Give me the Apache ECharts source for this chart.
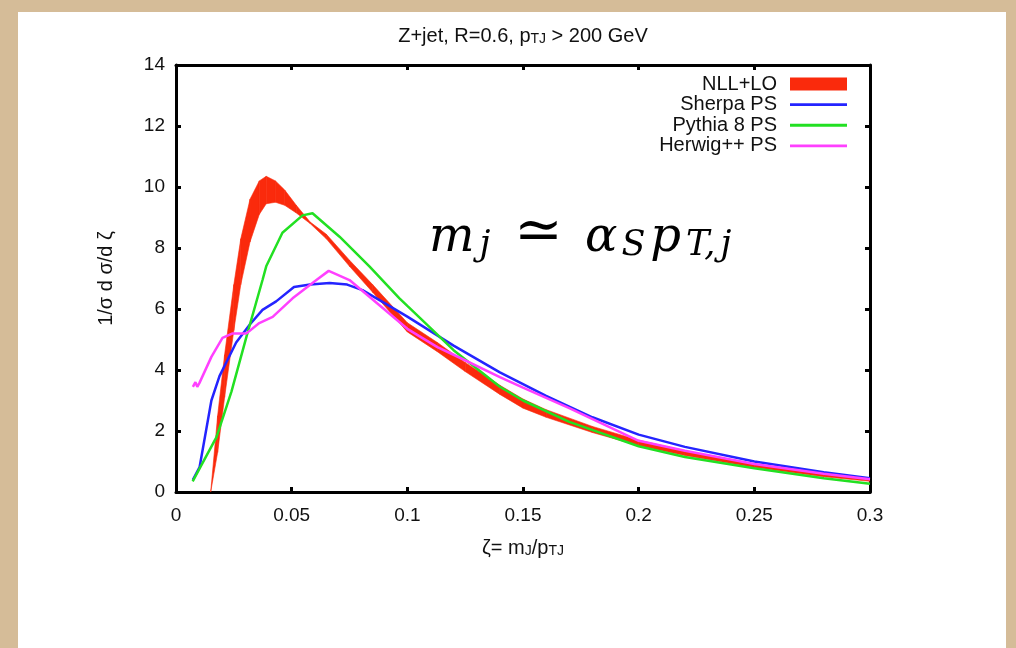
<!DOCTYPE html>
<html>
<head>
<meta charset="utf-8">
<script src="https://cdn.jsdelivr.net/npm/echarts@6/dist/echarts.min.js"></script>
<style>
  html, body { margin: 0; padding: 0; background: #d5bc98; }
  #chart { width: 1016px; height: 648px; }
</style>
</head>
<body>
<div id="chart"></div>
<script>
// ---- data ----
const seriesNames = ['NLL+LO', 'Sherpa PS', 'Pythia 8 PS', 'Herwig++ PS'];

const zNLL    = [0.015,0.018,0.021,0.025,0.028,0.032,0.036,0.039,0.043,0.047,0.052,0.058,0.065,0.075,0.085,0.1,0.113,0.125,0.14,0.15,0.16,0.18,0.2,0.22,0.25,0.28,0.3];
const nllHigh = [0,2.5,4.5,6.8,8.3,9.6,10.2,10.35,10.2,9.9,9.4,8.85,8.45,7.6,6.8,5.55,4.9,4.25,3.5,3.05,2.7,2.15,1.7,1.35,0.92,0.58,0.42];
const nllLow  = [0,1.3,3.1,5.3,6.8,8.2,9.1,9.45,9.5,9.4,9.15,8.8,8.3,7.4,6.55,5.25,4.6,3.95,3.2,2.75,2.45,1.95,1.52,1.2,0.8,0.5,0.35];

const zSherpa = [0.0073,0.0102,0.0153,0.0188,0.026,0.032,0.0374,0.0433,0.051,0.058,0.0664,0.074,0.0806,0.09,0.1,0.12,0.14,0.16,0.18,0.2,0.22,0.25,0.28,0.3];
const sherpa  = [0.4,0.82,3.0,3.8,4.9,5.5,5.97,6.25,6.72,6.8,6.85,6.8,6.62,6.2,5.75,4.8,3.92,3.15,2.45,1.88,1.48,1.0,0.65,0.45];

const zPythia = [0.0072,0.0175,0.024,0.0305,0.0374,0.039,0.046,0.0547,0.059,0.0707,0.0836,0.0966,0.1,0.12,0.14,0.15,0.17,0.2,0.22,0.25,0.28,0.3];
const pythia  = [0.35,1.8,3.3,5.1,6.95,7.4,8.5,9.07,9.14,8.37,7.4,6.35,6.1,4.65,3.45,3.0,2.3,1.5,1.15,0.78,0.45,0.27];

const zHerwig = [0.0073,0.0084,0.0092,0.0101,0.0153,0.0201,0.0245,0.0305,0.036,0.0418,0.0504,0.0607,0.066,0.075,0.0836,0.1,0.113,0.12,0.14,0.15,0.17,0.2,0.22,0.25,0.28,0.3];
const herwig  = [3.45,3.6,3.45,3.57,4.43,5.05,5.2,5.2,5.54,5.74,6.35,6.95,7.25,6.95,6.4,5.35,4.75,4.5,3.77,3.42,2.75,1.68,1.35,0.92,0.6,0.42];

const xTicks = { min: 0, max: 0.3, interval: 0.05 };
const yTicks = { min: 0, max: 14, interval: 2 };

// ---- chart ----
const FONT = 'Liberation Sans';
const FS = 19;
const chart = echarts.init(document.getElementById('chart'), null, { renderer: 'canvas' });

const pairs = (xs, ys) => xs.map((x, i) => [x, ys[i]]);
const bandData = zNLL.map((z, i) => [z, nllLow[i], nllHigh[i]]);

const frameAxis = {
  axisLine: { show: true, onZero: false, lineStyle: { color: '#000', width: 3 } },
  axisTick: { show: true, inside: true, length: 5, lineStyle: { color: '#000', width: 3 } },
  splitLine: { show: false }
};

const subRich = {
  a: { fontFamily: FONT, fontSize: 20, fontWeight: 'normal', color: '#111', lineHeight: 22, verticalAlign: 'bottom' },
  s: { fontFamily: FONT, fontSize: 14, fontWeight: 'normal', color: '#111', lineHeight: 3, verticalAlign: 'bottom' }
};

const lineIcon = 'path://M0 0H60V3H0Z';
const mathMain = { fontFamily: 'DejaVu Serif', fontStyle: 'italic', fontSize: 48, lineHeight: 50, verticalAlign: 'bottom', fill: '#000' };
const mathSub  = { fontFamily: 'DejaVu Serif', fontStyle: 'italic', fontSize: 35, lineHeight: 3, verticalAlign: 'bottom', fill: '#000' };

const option = {
  backgroundColor: '#d5bc98',
  animation: false,
  title: {
    text: '{a|Z+jet, R=0.6, p}{s|TJ}{a| > 200 GeV}',
    left: 518,
    textAlign: 'center',
    top: 19,
    textStyle: { fontWeight: 'normal', rich: subRich }
  },
  graphic: [
    { type: 'rect', z: -10, silent: true, shape: { x: 18, y: 12, width: 988, height: 640 }, style: { fill: '#ffffff' } },
    {
      type: 'text', left: 429, top: 205, z: 10,
      style: {
        text: '{m|m}{j|j}{op|≃}{al|α}{S|S}{p|p}{T|T,}{jj|j}',
        rich: {
          m:  Object.assign({}, mathMain, { padding: [0, 5, 0, 0] }),
          j:  Object.assign({}, mathSub),
          op: { fontFamily: 'DejaVu Serif', fontSize: 58, lineHeight: 40, verticalAlign: 'bottom', fill: '#000', padding: [0, 22, 0, 24] },
          al: Object.assign({}, mathMain, { padding: [0, 4, 0, 0] }),
          S:  Object.assign({}, mathSub, { padding: [0, 5, 0, 0] }),
          p:  Object.assign({}, mathMain, { padding: [0, 5, 0, 0] }),
          T:  Object.assign({}, mathSub, { padding: [0, 5, 0, 0] }),
          jj: Object.assign({}, mathSub)
        }
      }
    }
  ],
  legend: {
    orient: 'vertical',
    right: 169,
    top: 74,
    padding: 0,
    align: 'right',
    itemWidth: 57,
    itemHeight: 13,
    itemGap: 0.6,
    textStyle: { fontFamily: FONT, fontSize: 20, lineHeight: 20, color: '#111', padding: [0, 8, 0, 0] },
    data: [
      { name: seriesNames[0], icon: 'rect' },
      { name: seriesNames[1], icon: lineIcon },
      { name: seriesNames[2], icon: lineIcon },
      { name: seriesNames[3], icon: lineIcon }
    ]
  },
  grid: { left: 176, right: 146, top: 65, bottom: 156 },
  xAxis: [
    Object.assign({
      type: 'value', position: 'bottom',
      min: xTicks.min, max: xTicks.max, interval: xTicks.interval,
      axisLabel: { fontFamily: FONT, fontSize: FS, color: '#111', margin: 14 },
      name: '{a|ζ= m}{s|J}{a|/p}{s|TJ}',
      nameLocation: 'middle', nameGap: 44,
      nameTextStyle: { rich: subRich }
    }, frameAxis),
    Object.assign({
      type: 'value', position: 'top',
      min: xTicks.min, max: xTicks.max, interval: xTicks.interval,
      axisLabel: { show: false }
    }, frameAxis)
  ],
  yAxis: [
    Object.assign({
      type: 'value', position: 'left',
      min: yTicks.min, max: yTicks.max, interval: yTicks.interval,
      axisLabel: { fontFamily: FONT, fontSize: FS, color: '#111', margin: 11 },
      name: '1/σ d σ/d ζ',
      nameLocation: 'middle', nameGap: 60,
      nameTextStyle: { fontFamily: FONT, fontSize: 20, color: '#111' }
    }, frameAxis),
    Object.assign({
      type: 'value', position: 'right',
      min: yTicks.min, max: yTicks.max, interval: yTicks.interval,
      axisLabel: { show: false }
    }, frameAxis)
  ],
  series: [
    {
      name: seriesNames[0],
      type: 'custom',
      xAxisIndex: 0, yAxisIndex: 0,
      clip: true,
      itemStyle: { color: '#fa2a0c' },
      data: bandData,
      encode: { x: 0, y: [1, 2] },
      renderItem: function (params, api) {
        const i = params.dataIndex;
        if (i >= bandData.length - 1) return null;
        const a = bandData[i], b = bandData[i + 1];
        const pts = [
          api.coord([a[0], a[2]]), api.coord([b[0], b[2]]),
          api.coord([b[0], b[1]]), api.coord([a[0], a[1]])
        ];
        return {
          type: 'polygon',
          shape: { points: pts },
          style: { fill: '#fa2a0c', stroke: '#fa2a0c', lineWidth: 0.6 }
        };
      },
      z: 2
    },
    {
      name: seriesNames[1], type: 'line', data: pairs(zSherpa, sherpa),
      showSymbol: false, symbol: 'none', lineStyle: { color: '#2424ff', width: 2.5 }, itemStyle: { color: '#2424ff' }, z: 3
    },
    {
      name: seriesNames[2], type: 'line', data: pairs(zPythia, pythia),
      showSymbol: false, symbol: 'none', lineStyle: { color: '#22e022', width: 2.5 }, itemStyle: { color: '#22e022' }, z: 3
    },
    {
      name: seriesNames[3], type: 'line', data: pairs(zHerwig, herwig),
      showSymbol: false, symbol: 'none', lineStyle: { color: '#ff40ff', width: 2.5 }, itemStyle: { color: '#ff40ff' }, z: 3
    }
  ]
};

chart.setOption(option);
</script>
</body>
</html>
